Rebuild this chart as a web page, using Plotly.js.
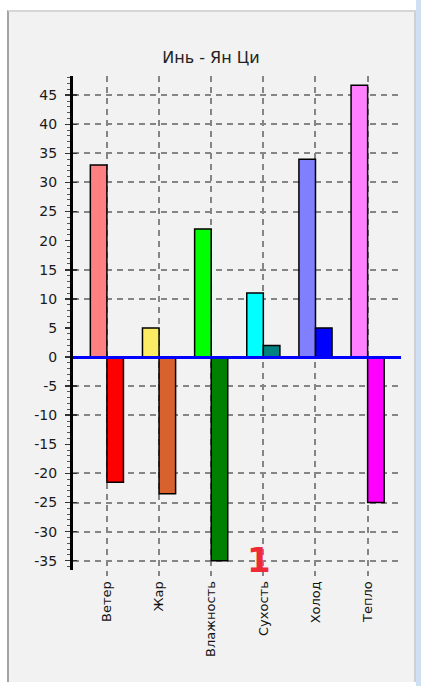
<!DOCTYPE html>
<html>
<head>
<meta charset="utf-8">
<script src="https://cdn.plot.ly/plotly-3.0.1.min.js"></script>
<style>
  html, body { margin:0; padding:0; background:#ffffff; width:421px; height:686px; overflow:hidden; }
  #frame { position:absolute; left:7px; top:10px; width:405px; height:670px; background:#f2f2f2;
           border-left:2px solid #a3a3a3; border-top:2px solid #d6d6d6; border-right:2px solid #d0d0d0; }
  #strip { position:absolute; left:416px; top:0; width:5px; height:686px; background:#cfe0f3; }
  #chart { position:absolute; left:0; top:0; width:421px; height:686px; }
</style>
</head>
<body>
<div id="frame"></div>
<div id="strip"></div>
<div id="chart"></div>
<script>
// ---- data ----
const categories = ["Ветер", "Жар", "Влажность", "Сухость", "Холод", "Тепло"];
const yangValues = [33, 5, 22, 11, 34, 46.7];
const yinValues  = [-21.5, -23.5, -35, 2, 5, -25];
const yangColors = ["#ff8080", "#fbec63", "#00ff00", "#00ffff", "#8080ff", "#ff80ff"];
const yinColors  = ["#ff0000", "#d8622e", "#008000", "#008080", "#0000ff", "#ff00ff"];
const yTickVals  = [45, 40, 35, 30, 25, 20, 15, 10, 5, 0, -5, -10, -15, -20, -25, -30, -35];
const gridVals   = [45, 40, 35, 30, 25, 15, 10, -5, -10, -20, -25, -30, -35];
const chartTitle = "Инь - Ян Ци";

const traces = [
  { type: "bar", x: categories, y: yangValues, name: "Ян",
    marker: { color: yangColors, line: { color: "#000000", width: 1.5 } }, hoverinfo: "x+y" },
  { type: "bar", x: categories, y: yinValues, name: "Инь",
    marker: { color: yinColors, line: { color: "#000000", width: 1.5 } }, hoverinfo: "x+y" }
];

const fontFam = "DejaVu Sans, Verdana, sans-serif";
const gridCol = "#858585";
const layout = {
  width: 421, height: 686,
  margin: { l: 73, r: 20, t: 76, b: 116 },
  paper_bgcolor: "rgba(0,0,0,0)",
  plot_bgcolor: "rgba(0,0,0,0)",
  showlegend: false,
  barmode: "group",
  bargap: 0.365,
  bargroupgap: 0,
  title: { text: chartTitle, font: { family: fontFam, size: 16, color: "#222222" },
           xref: "container", x: 0.501, xanchor: "center",
           yref: "container", y: 0.917, yanchor: "middle" },
  xaxis: {
    type: "category", range: [-0.65, 5.64],
    showgrid: true, gridcolor: gridCol, gridwidth: 2, griddash: "6px,5px",
    showline: false, zeroline: false,
    ticks: "outside", ticklen: 5, tickcolor: gridCol, tickwidth: 2,
    tickangle: -90, tickfont: { family: fontFam, size: 13, color: "#111111" }
  },
  yaxis: {
    range: [-36.6, 48.3], tickvals: yTickVals, ticktext: yTickVals.map(String),
    showgrid: false,
    zeroline: true, zerolinecolor: "#0000ff", zerolinewidth: 3, zerolinelayer: "above traces",
    showline: true, linecolor: "#000000", linewidth: 3,
    ticks: "outside", ticklen: 5, tickwidth: 1.5, tickcolor: "#333333",
    minor: { dtick: 1, tick0: 0, ticks: "outside", ticklen: 3, tickwidth: 1, tickcolor: "#555555", showgrid: false },
    ticklabelstandoff: 5,
    tickfont: { family: fontFam, size: 14, color: "#1a1a1a" }
  },
  yaxis2: {
    overlaying: "y", range: [-36.6, 48.3], tickvals: gridVals,
    showticklabels: false, showgrid: true, gridcolor: gridCol, gridwidth: 2, griddash: "6px,5px",
    zeroline: false, showline: false, ticks: "inside", ticklen: 4, tickcolor: "#333333", tickwidth: 1.5
  },
  annotations: [
    { x: "Сухость", y: -35, xref: "x", yref: "y", text: "<b>1</b>", showarrow: false,
      xshift: -4, yshift: 1, font: { family: fontFam, size: 34, color: "#ee2a36" } }
  ]
};

// invisible helper trace so the overlaid grid axis is drawn
traces.push({ type: "scatter", x: [categories[0]], y: [0], yaxis: "y2", mode: "markers",
              marker: { opacity: 0 }, hoverinfo: "skip", showlegend: false });

Plotly.newPlot("chart", traces, layout, { displayModeBar: false, staticPlot: true });
</script>
</body>
</html>
